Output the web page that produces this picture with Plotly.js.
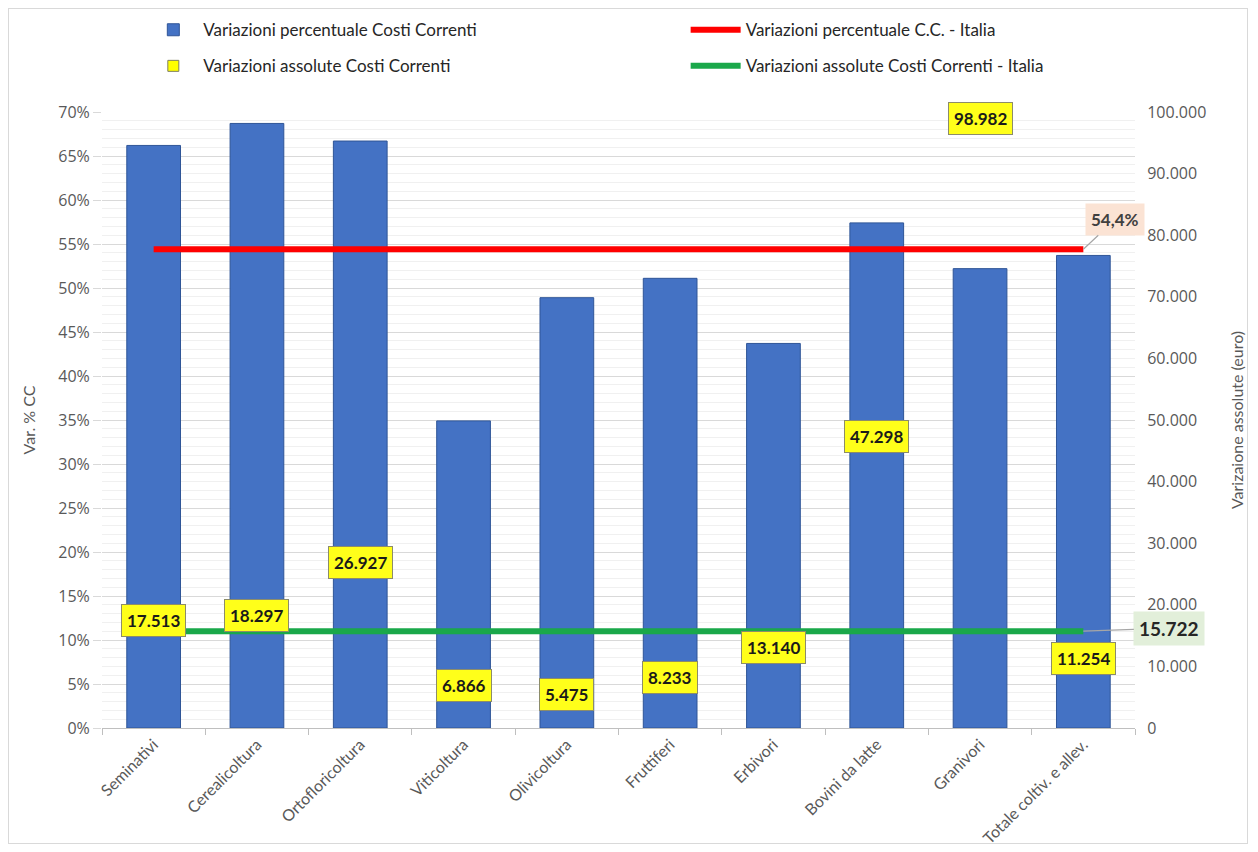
<!DOCTYPE html>
<html>
<head>
<meta charset="utf-8">
<script src="https://cdn.plot.ly/plotly-3.0.1.min.js"></script>
<style>
html,body{margin:0;padding:0;background:#fff;}
#wrap{position:relative;width:1258px;height:852px;}
#frame{position:absolute;left:8px;top:8px;width:1240px;height:836px;border:1px solid #d9d9d9;box-sizing:border-box;pointer-events:none;}
#chart{position:absolute;left:0;top:0;width:1258px;height:852px;}
</style>
</head>
<body>
<div id="wrap"><div id="chart"></div><div id="frame"></div></div>
<script>
var categories = ["Seminativi","Cerealicoltura","Ortofloricoltura","Viticoltura","Olivicoltura","Fruttiferi","Erbivori","Bovini da latte","Granivori","Totale coltiv. e allev."];
var pctChange = [66.2, 68.7, 66.7, 34.9, 48.9, 51.1, 43.7, 57.4, 52.2, 53.7];
var absChange = [17513, 18297, 26927, 6866, 5475, 8233, 13140, 47298, 98982, 11254];
var italiaPct = 54.4;
var italiaAbs = 15722;

var leftTicks = [0,5,10,15,20,25,30,35,40,45,50,55,60,65,70];
var leftTickText = leftTicks.map(function(v){ return v + '%'; });

function fmtIt(v){ return String(v).replace(/\B(?=(\d{3})+(?!\d))/g,'.'); }

var FONT = 'Lato, "Open Sans", sans-serif';

var traces = [
  {type:'bar', x:categories, y:pctChange, name:'Variazioni percentuale Costi Correnti',
   marker:{color:'#4472c4', line:{color:'#2f5597', width:1}}, legend:'legend', legendgroup:'a', yaxis:'y'},
  {type:'scatter', mode:'lines', x:categories, y:categories.map(function(){return italiaPct;}),
   name:'Variazioni percentuale C.C. - Italia', line:{color:'#ff0000', width:6},
   legend:'legend2', legendgroup:'b', yaxis:'y'},
  {type:'scatter', mode:'markers', x:categories, y:absChange, name:'Variazioni assolute Costi Correnti',
   marker:{symbol:'square', size:11, color:'#ffff00', line:{color:'#7f7f5f', width:1}},
   legend:'legend', legendgroup:'c', yaxis:'y2'},
  {type:'scatter', mode:'lines', x:categories, y:categories.map(function(){return italiaAbs;}),
   name:'Variazioni assolute Costi Correnti - Italia', line:{color:'#1aa84a', width:6},
   legend:'legend2', legendgroup:'d', yaxis:'y2'}
];

var annotations = categories.map(function(c,i){
  return {x:c, y:absChange[i], xref:'x', yref:'y2', text:fmtIt(absChange[i]), showarrow:false,
    bgcolor:'#ffff1a', bordercolor:'#8c8c6a', borderwidth:1, borderpad:5,
    font:{family:FONT, size:17, color:'#1a1a1a', weight:'bold'}};
});
annotations.push({x:categories[categories.length-1], y:italiaPct, xref:'x', yref:'y',
  text:String(italiaPct).replace('.',',')+'%', showarrow:true, arrowhead:0, arrowcolor:'#a6a6a6', arrowwidth:1.2,
  ax:32, ay:-30, standoff:0, bgcolor:'#fbe3d4', borderpad:5,
  font:{family:FONT, size:17, color:'#404040', weight:'bold'}});
annotations.push({x:categories[categories.length-1], y:italiaAbs, xref:'x', yref:'y2',
  text:fmtIt(italiaAbs), showarrow:true, arrowhead:0, arrowcolor:'#a6a6a6', arrowwidth:1.2,
  ax:86, ay:-3, standoff:0, bgcolor:'#e2efda', borderpad:5,
  font:{family:FONT, size:19, color:'#262626', weight:'bold'}});

var layout = {
  width:1258, height:852,
  margin:{l:102, r:123, t:110, b:124},
  paper_bgcolor:'rgba(0,0,0,0)', plot_bgcolor:'#ffffff',
  separators:',.',
  font:{family:FONT, color:'#595959'},
  bargap:0.48,
  showlegend:true,
  legend:{x:0.04, y:1.162, xanchor:'left', yanchor:'top', orientation:'v', traceorder:'grouped', tracegroupgap:11,
    font:{family:FONT, size:17, color:'#262626'}, bgcolor:'rgba(0,0,0,0)', itemwidth:50},
  legend2:{x:0.565, y:1.162, xanchor:'left', yanchor:'top', orientation:'v', traceorder:'grouped', tracegroupgap:11,
    font:{family:FONT, size:17, color:'#262626'}, bgcolor:'rgba(0,0,0,0)', itemwidth:50},
  xaxis:{type:'category', range:[-0.5, categories.length-0.5], autorange:false, showline:true, linecolor:'#bfbfbf', linewidth:1,
    ticks:'outside', tickson:'boundaries',
    ticklen:6, tickcolor:'#bfbfbf', tickangle:-45, tickfont:{family:FONT, size:16, color:'#595959'}, showgrid:false},
  yaxis:{range:[0,70], autorange:false, tickmode:'array', tickvals:leftTicks, ticktext:leftTickText, showgrid:true, gridcolor:'#d9d9d9', gridwidth:1,
    ticks:'outside', ticklen:8, tickcolor:'#d9d9d9',
    minor:{dtick:1, showgrid:true, gridcolor:'#f0f0f0', gridwidth:1},
    tickfont:{family:'"Open Sans", sans-serif', size:16, color:'#595959'}, zeroline:false,
    title:{text:'Var. % CC', font:{family:FONT, size:16, color:'#595959'}, standoff:18}},
  yaxis2:{range:[0,100000], autorange:false, overlaying:'y', side:'right', tickformat:',d', dtick:10000, showgrid:false, zeroline:false,
    ticks:'outside', ticklen:8, tickcolor:'rgba(0,0,0,0)',
    tickfont:{family:'"Open Sans", sans-serif', size:16, color:'#595959'},
    title:{text:'Varizaione assolute (euro)', font:{family:FONT, size:16, color:'#595959'}, standoff:26}},
  annotations:annotations
};

Plotly.newPlot('chart', traces, layout, {displayModeBar:false});
</script>
</body>
</html>
